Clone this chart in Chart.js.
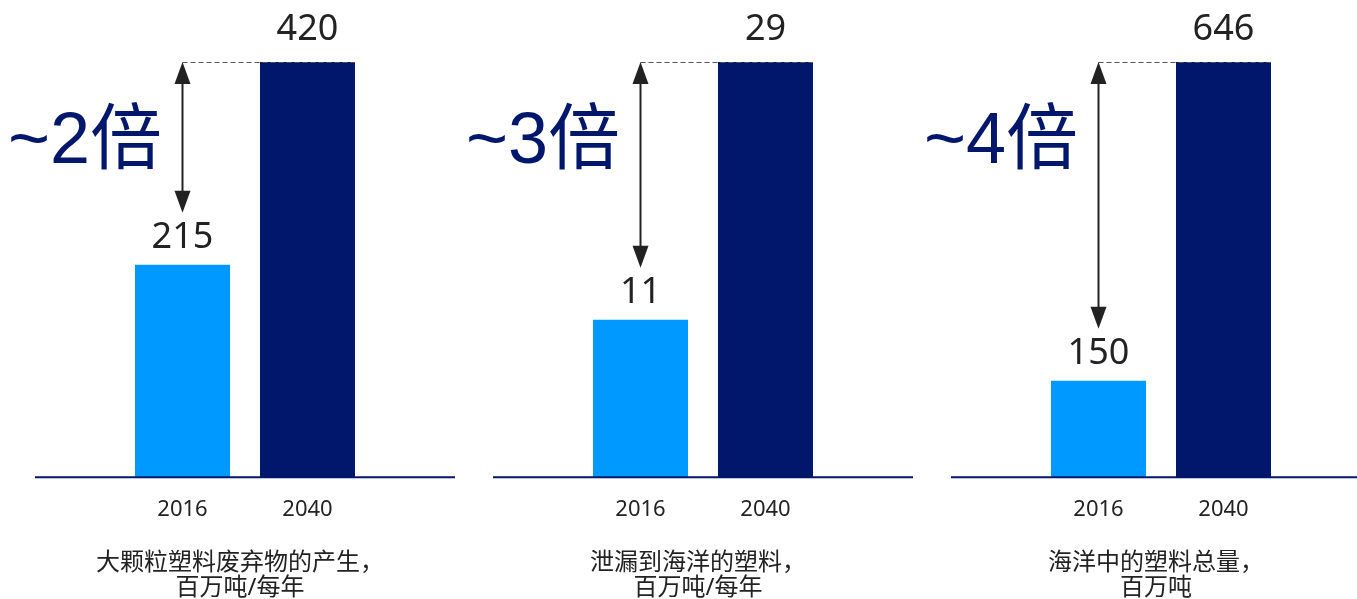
<!DOCTYPE html>
<html>
<head>
<meta charset="utf-8">
<script src="https://cdn.jsdelivr.net/npm/chart.js@4.4.1/dist/chart.umd.min.js"></script>
<style>
  html, body { margin: 0; padding: 0; background: #fff; overflow: hidden; }
  #wrap { position: relative; width: 1357px; height: 599px; overflow: hidden; }
  .panel { position: absolute; top: 0; width: 455px; height: 601px; }
</style>
</head>
<body>
<div id="wrap">
  <div class="panel" style="left:0px"><canvas id="c1"></canvas></div>
  <div class="panel" style="left:458px"><canvas id="c2"></canvas></div>
  <div class="panel" style="left:916px"><canvas id="c3"></canvas></div>
</div>
<script>
// data
const years = ['2016', '2040'];
const macroWaste = [215, 420];
const oceanLeak = [11, 29];
const oceanStock = [150, 646];
const multiples = ['~2倍', '~3倍', '~4倍'];
const titles = [
  ['大颗粒塑料废弃物的产生，', '百万吨/每年'],
  ['泄漏到海洋的塑料，', '百万吨/每年'],
  ['海洋中的塑料总量，', '百万吨']
];

const lightBlue = '#0099ff';
const navy = '#00176c';
const ink = '#222222';
const cjk = '"Noto Sans", "Noto Sans CJK SC", sans-serif';

// draws baseline, dashed guide, arrow, value labels and the "~N倍" text
const decor = {
  id: 'decor',
  afterDatasetsDraw(chart, args, opts) {
    let ctx = chart.ctx;
    let ys = chart.scales.y;
    let meta = chart.getDatasetMeta(0);
    let vals = chart.data.datasets[0].data;
    let b1 = meta.data[0], b2 = meta.data[1];
    let base = ys.getPixelForValue(0);
    let top = ys.getPixelForValue(vals[1]);
    let low = ys.getPixelForValue(vals[0]);
    let ax = b1.x;

    ctx.save();
    // baseline
    ctx.strokeStyle = navy;
    ctx.lineWidth = 2;
    ctx.beginPath();
    ctx.moveTo(35, base);
    ctx.lineTo(455, base);
    ctx.stroke();

    // dashed guide
    ctx.strokeStyle = '#555';
    ctx.lineWidth = 1;
    ctx.setLineDash([5, 3]);
    ctx.beginPath();
    ctx.moveTo(ax, top + 0.5);
    ctx.lineTo(b2.x + b2.width / 2, top + 0.5);
    ctx.stroke();
    ctx.setLineDash([]);

    // double arrow
    let tipLow = low - 52;
    ctx.strokeStyle = ink;
    ctx.fillStyle = ink;
    ctx.lineWidth = 2;
    ctx.beginPath();
    ctx.moveTo(ax, top + 18);
    ctx.lineTo(ax, tipLow - 18);
    ctx.stroke();
    ctx.beginPath();
    ctx.moveTo(ax, top);
    ctx.lineTo(ax - 8, top + 22);
    ctx.lineTo(ax + 8, top + 22);
    ctx.closePath();
    ctx.fill();
    ctx.beginPath();
    ctx.moveTo(ax, tipLow);
    ctx.lineTo(ax - 8, tipLow - 22);
    ctx.lineTo(ax + 8, tipLow - 22);
    ctx.closePath();
    ctx.fill();

    // value labels
    ctx.font = '36px ' + cjk;
    ctx.textAlign = 'center';
    ctx.textBaseline = 'middle';
    ctx.fillStyle = ink;
    ctx.fillText(String(vals[0]), b1.x, b1.y - 27);
    ctx.fillText(String(vals[1]), b2.x, b2.y - 32);

    // multiple
    ctx.font = '72px "Liberation Sans", "Noto Sans CJK SC", sans-serif';
    ctx.textAlign = 'left';
    ctx.fillStyle = navy;
    ctx.fillText(opts.text, 8, 143);
    ctx.restore();
  }
};

function makePanel(id, values, mult, title) {
  new Chart(document.getElementById(id), {
    type: 'bar',
    data: {
      labels: years,
      datasets: [{
        data: values,
        backgroundColor: [lightBlue, navy],
        categoryPercentage: 1,
        barPercentage: 0.76
      }]
    },
    options: {
      responsive: true,
      maintainAspectRatio: false,
      animation: false,
      layout: { padding: { top: 62, left: 25, right: 0, bottom: 0 } },
      scales: {
        x: {
          grid: { display: false, drawTicks: false },
          border: { display: false },
          ticks: { color: ink, padding: 19, font: { size: 22, family: cjk } }
        },
        y: {
          min: 0, max: values[1],
          grid: { display: false, drawTicks: false },
          border: { display: false },
          ticks: { display: false },
          afterFit: s => { s.width = 95; }
        },
        yr: {
          position: 'right',
          display: true,
          min: 0, max: 1,
          grid: { display: false, drawTicks: false },
          border: { display: false },
          ticks: { display: false },
          afterFit: s => { s.width = 85; }
        }
      },
      plugins: {
        legend: { display: false },
        tooltip: { enabled: false },
        title: {
          display: true,
          position: 'bottom',
          text: title,
          color: ink,
          font: { size: 24, weight: 'normal', family: cjk, lineHeight: 1.05 },
          padding: { top: 9, bottom: 0 }
        },
        decor: { text: mult }
      }
    },
    plugins: [decor]
  });
}

makePanel('c1', macroWaste, multiples[0], titles[0]);
makePanel('c2', oceanLeak, multiples[1], titles[1]);
makePanel('c3', oceanStock, multiples[2], titles[2]);
</script>
</body>
</html>
